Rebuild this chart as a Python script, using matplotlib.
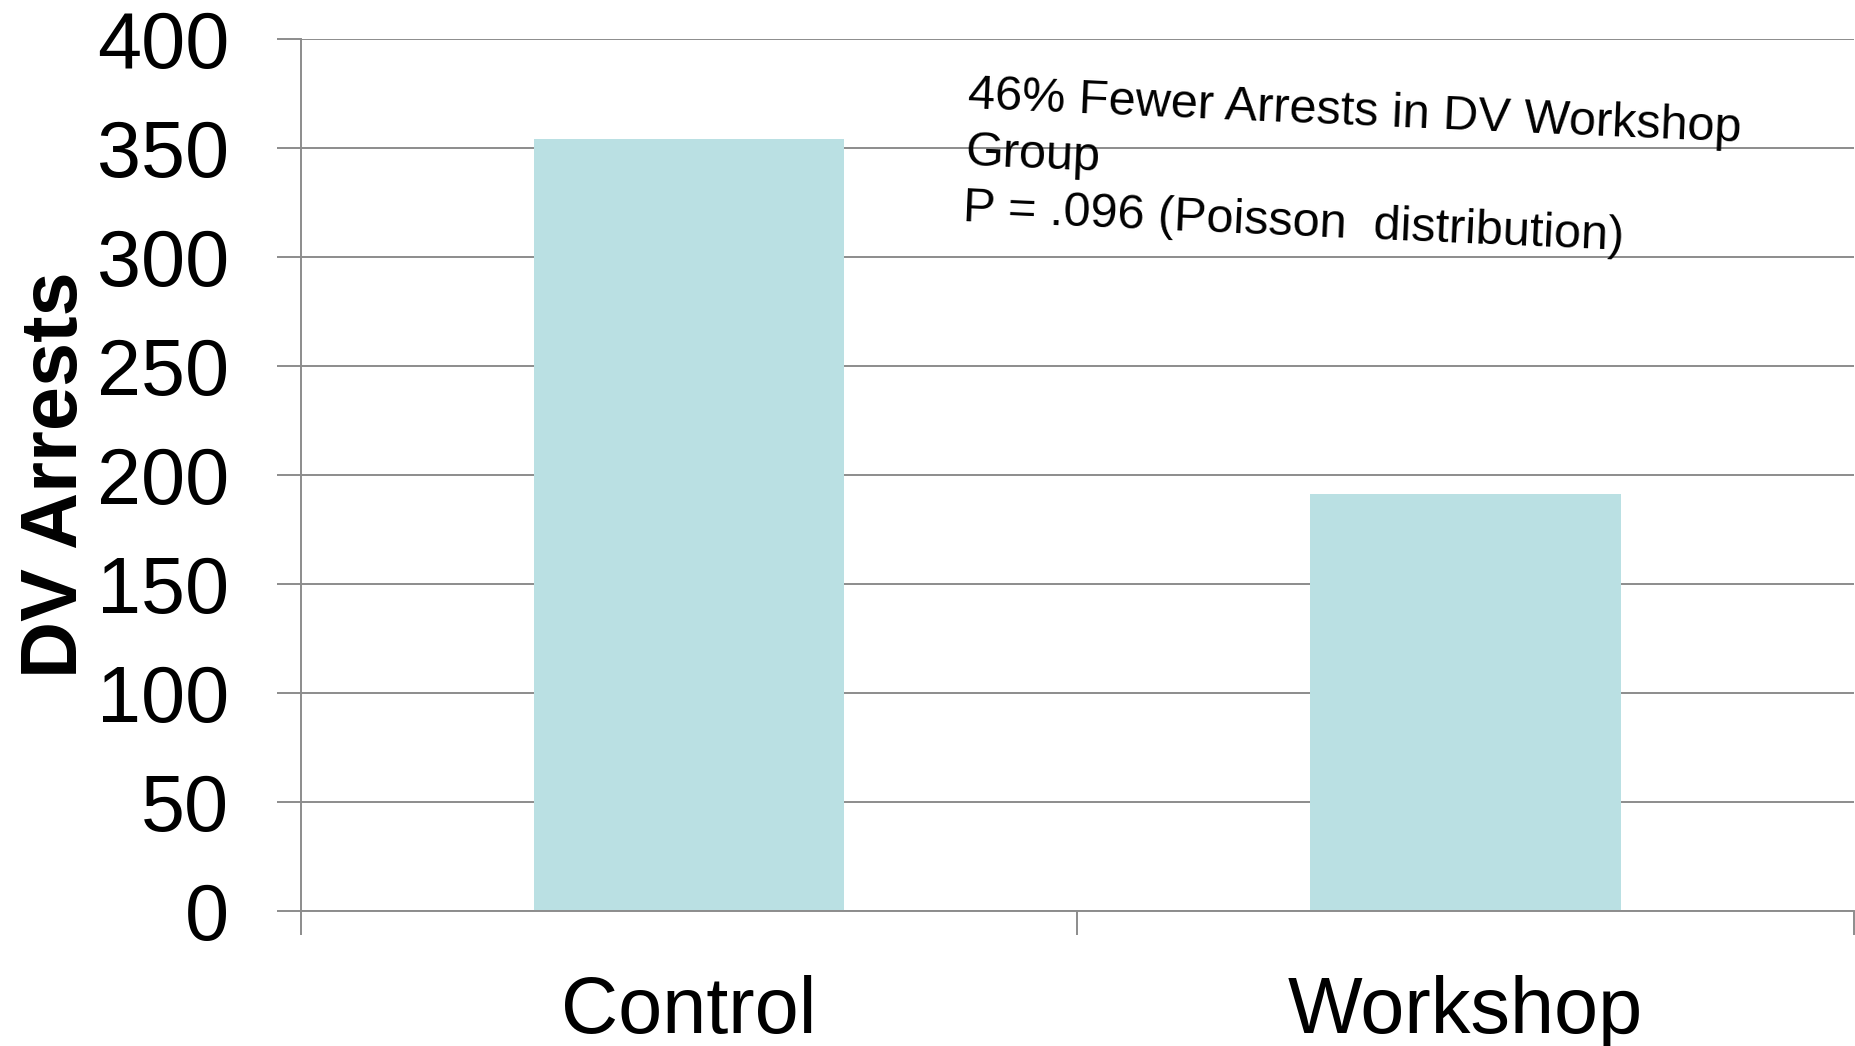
import matplotlib
matplotlib.use("Agg")
import matplotlib.pyplot as plt
from matplotlib.ticker import FixedLocator

# Data
groups = ["Control", "Workshop"]
arrests = [354, 191]
y_ticks = [0, 50, 100, 150, 200, 250, 300, 350, 400]
note = "46% Fewer Arrests in DV Workshop\nGroup\nP = .096 (Poisson  distribution)"

GRID = "#8c8c8c"
BAR = "#bae0e3"

plt.rcParams["font.family"] = ["Liberation Sans", "DejaVu Sans"]

fig = plt.figure(figsize=(18.55, 10.46), dpi=100)
ax = fig.add_axes([0.1621, 0.1293, 0.8374, 0.8334])

x = list(range(len(groups)))
ax.bar(x, arrests, width=0.4, color=BAR, zorder=2)

ax.set_xlim(-0.5, len(groups) - 0.5)
ax.set_ylim(0, 400)
ax.set_yticks(y_ticks)
ax.set_xticks(x)
ax.set_xticklabels(groups)
# category boundary ticks
ax.xaxis.set_minor_locator(FixedLocator([i - 0.5 for i in range(len(groups) + 1)]))

ax.set_axisbelow(True)
ax.yaxis.grid(True, color=GRID, linewidth=1.4)

for side in ["top", "right"]:
    ax.spines[side].set_visible(False)
for side in ["left", "bottom"]:
    ax.spines[side].set_color(GRID)
    ax.spines[side].set_linewidth(1.4)

ax.tick_params(axis="y", which="major", length=17.3, width=1.4, color=GRID,
               labelsize=57, pad=34)
ax.tick_params(axis="x", which="major", length=0, labelsize=57, pad=46)
ax.tick_params(axis="x", which="minor", length=17.3, width=1.4, color=GRID)

ax.set_ylabel("DV Arrests", fontsize=57, fontweight="bold")
ax.yaxis.set_label_coords(-0.133, 0.5)

# anchored at the baseline of the last line
ax.text(0.353, 321.7, note, fontsize=35, rotation=-2.5, rotation_mode="anchor",
        ha="left", va="baseline", linespacing=1.33, zorder=3)

fig.savefig("out.png", dpi=100)
